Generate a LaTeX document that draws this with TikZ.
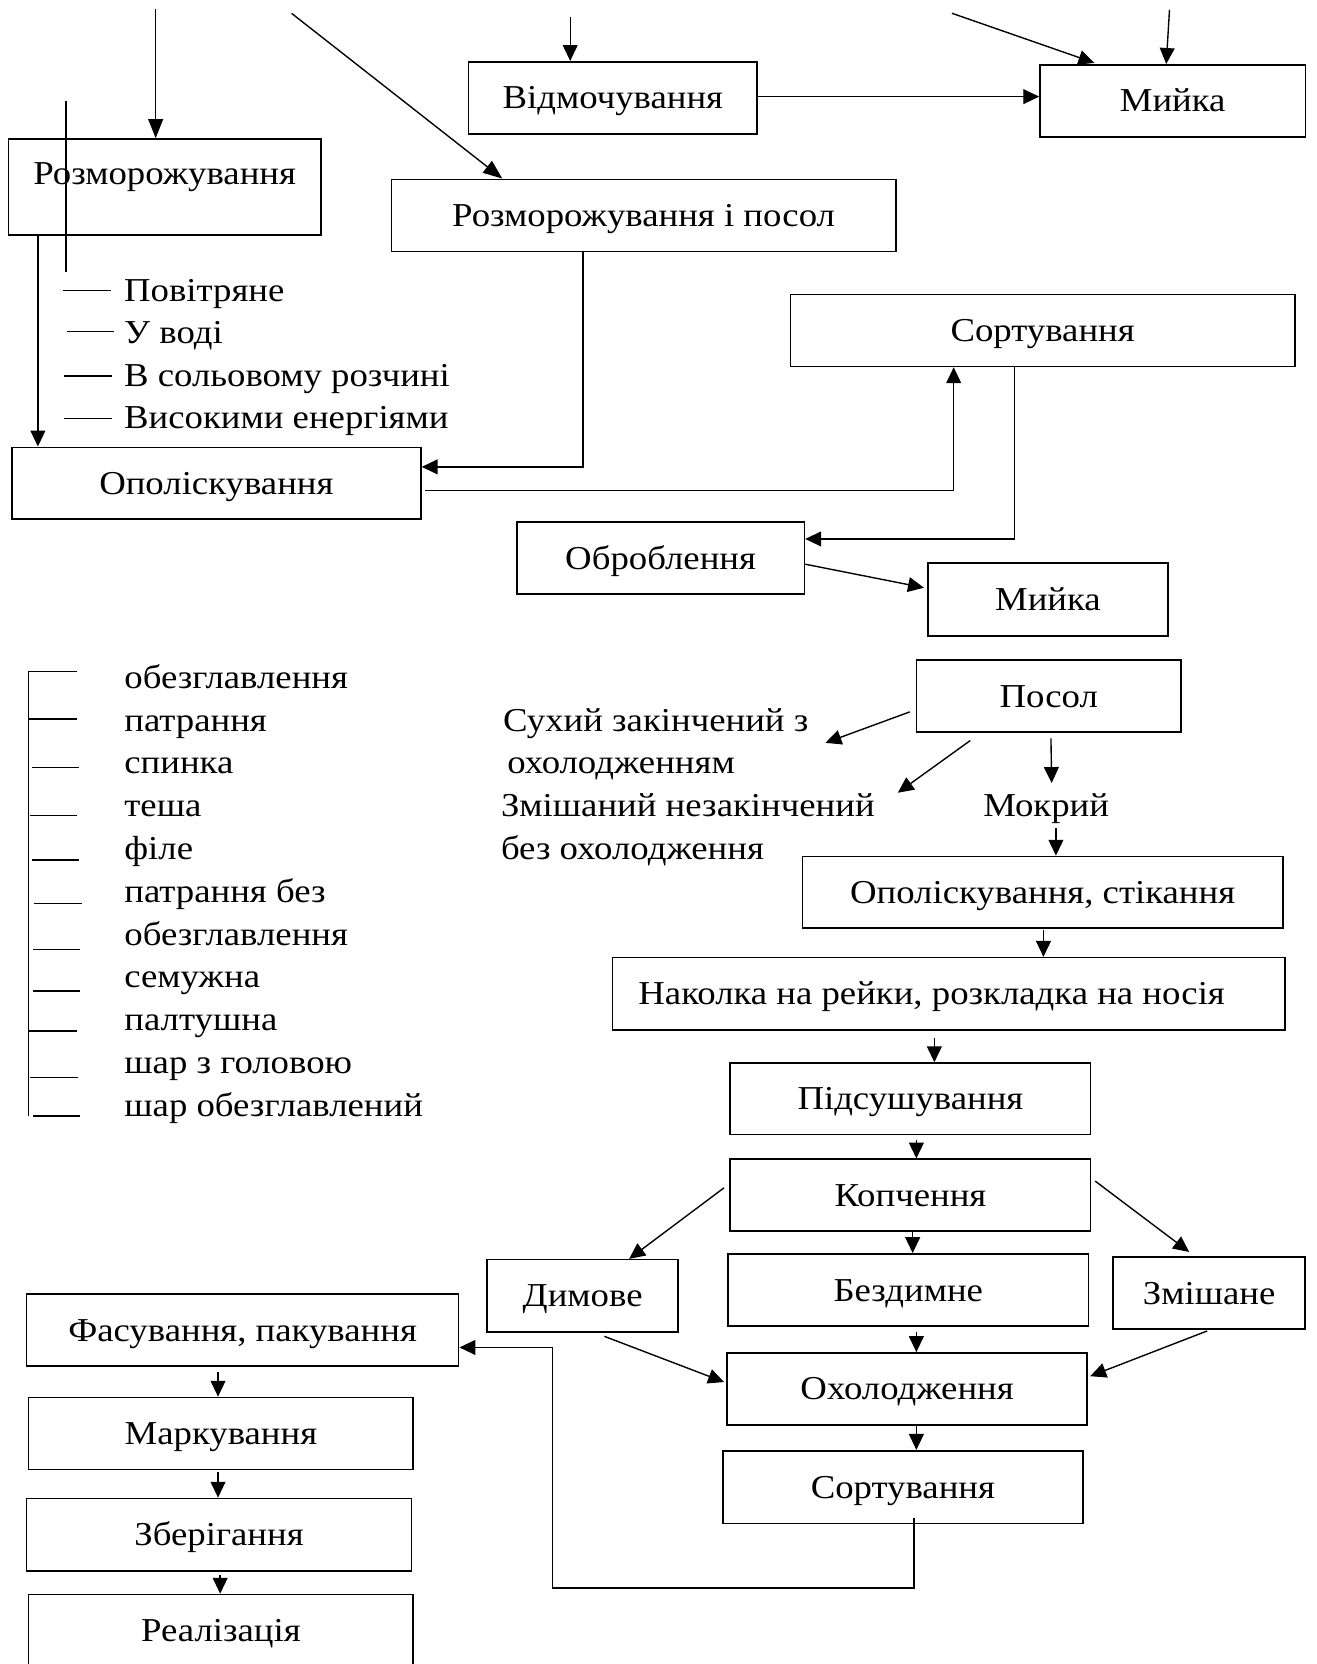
\documentclass[tikz,border=0pt]{standalone}
\usepackage{fontspec}
\setmainfont{Liberation Serif}[FakeStretch=1.1]
\usetikzlibrary{arrows.meta,calc}
\begin{document}
\begin{tikzpicture}[x=1pt,y=-1pt,font=\fontsize{31.5}{36}\selectfont]
\tikzset{
 bx/.style={draw,line width=1.5pt,inner sep=0pt,text height=21pt,text depth=0pt,anchor=center},
 arr/.style={line width=1.3pt,-{Triangle[length=15pt,width=14pt]}},
 arrbig/.style={line width=1.3pt,-{Triangle[length=18pt,width=14pt]}},
 ln/.style={line width=1.3pt},
 lbl/.style={anchor=base west,inner sep=0pt},
}
\fill[white] (0,0) rectangle (1241,1568);
\useasboundingbox (0,0) rectangle (1241,1568);

% ---- boxes ----
\node[bx,minimum width=272pt,minimum height=68pt] (vidm) at (577.5,92.2) {Відмочування};
\node[bx,minimum width=250pt,minimum height=68pt] (myika1) at (1105,95) {Мийка};
\node[bx,minimum width=294.5pt,minimum height=90.5pt,text depth=26pt] (rozm) at (155.2,176.2) {Розморожування};
\node[bx,minimum width=475.3pt,minimum height=68pt] (rozmpos) at (606.5,203) {Розморожування і посол};
\node[bx,minimum width=385.5pt,minimum height=67.8pt] (opol) at (203.9,455.4) {Ополіскування};
\node[bx,minimum width=475pt,minimum height=67.8pt] (sort1) at (982.5,311.4) {Сортування};
\node[bx,minimum width=271pt,minimum height=68.2pt] (obrob) at (622.5,525.9) {Оброблення};
\node[bx,minimum width=226.2pt,minimum height=68.5pt] (myika2) at (987.5,564.8) {Мийка};
\node[bx,minimum width=249.3pt,minimum height=67.5pt] (posol) at (988.2,655.8) {Посол};
\node[bx,minimum width=453pt,minimum height=67.5pt] (opolstik) at (982.5,840.8) {Ополіскування, стікання};
\node[bx,minimum width=633.8pt,minimum height=68.2pt] (nakolka) at (893.9,936.5) {\hspace*{-32pt}Наколка на рейки, розкладка на носія};
\node[bx,minimum width=339.7pt,minimum height=67.3pt] (pidsush) at (857.9,1035.4) {Підсушування};
\node[bx,minimum width=339.7pt,minimum height=67.8pt] (kopch) at (857.9,1126.3) {Копчення};
\node[bx,minimum width=180pt,minimum height=68pt] (dym) at (549,1221) {Димове};
\node[bx,minimum width=339.7pt,minimum height=67.9pt] (bezdym) at (855.9,1215.5) {Бездимне};
\node[bx,minimum width=180.7pt,minimum height=67.8pt] (zmish) at (1139.4,1218.3) {Змішане};
\node[bx,minimum width=339.5pt,minimum height=67.7pt] (okhol) at (854.8,1308.7) {Охолодження};
\node[bx,minimum width=339.5pt,minimum height=68.4pt] (sort2) at (850.8,1401.2) {Сортування};
\node[bx,minimum width=407.2pt,minimum height=67.8pt] (fasuv) at (228.6,1253.4) {Фасування, пакування};
\node[bx,minimum width=362.4pt,minimum height=67.7pt] (mark) at (208.2,1350.7) {Маркування};
\node[bx,minimum width=362.8pt,minimum height=68.4pt] (zber) at (206.4,1446.2) {Зберігання};
\node[bx,minimum width=362.4pt,minimum height=68pt] (real) at (208.2,1536.5) {Реалізація};

% ---- legend 1 ----
\draw[ln] (62.3,95) coordinate (v1a) -- (62.3,256) coordinate (v1b);
\node[lbl] (l1) at (116.8,284.2) {Повітряне};
\node[lbl] (l2) at (116.8,324.1) {У воді};
\node[lbl] (l3) at (116.8,364.3) {В сольовому розчині};
\node[lbl] (l4) at (116.8,403.6) {Високими енергіями};
\draw[ln] (59.7,273.9) -- (104.3,273.9);
\draw[ln] (62.8,312.5) -- (107.4,312.5);
\draw[ln] (60.6,354.3) -- (105.8,354.3);
\draw[ln] (60.6,394.5) -- (105.2,394.5);

% ---- legend 2 ----
\draw[ln] (27,632.7) -- (27,1051.6);
\foreach \a/\b/\y in {27/72.6/632.7,27/72.6/677.5,29.7/74.2/723,27.8/72.6/768.3,29.7/74.2/810.3,32.5/77.3/851.6,30.9/75.3/895,30.9/75.3/933.8,27/72.6/971.5,27.8/73.4/1015.4,30.9/75.3/1051.6}
  \draw[ln] (\a,\y) -- (\b,\y);
\node[lbl] (m0) at (117,648.6) {обезглавлення};
\node[lbl] (m1) at (117,688.9) {патрання};
\node[lbl] (m2) at (117,729.3) {спинка};
\node[lbl] (m3) at (117,769.6) {теша};
\node[lbl] (m4) at (117,809.9) {філе};
\node[lbl] (m5) at (117,850.3) {патрання без};
\node[lbl] (m6) at (117,890.6) {обезглавлення};
\node[lbl] (m7) at (117,930.9) {семужна};
\node[lbl] (m8) at (117,971.2) {палтушна};
\node[lbl] (m9) at (117,1011.6) {шар з головою};
\node[lbl] (m10) at (117,1051.9) {шар обезглавлений};

% ---- salting texts ----
\node[lbl] (t1) at (474,689) {Сухий закінчений з};
\node[lbl] (t2) at (477.8,728.6) {охолодженням};
\node[lbl] (t3) at (471.9,769.5) {Змішаний незакінчений};
\node[lbl] (t4) at (471.9,810.3) {без охолодження};
\node[anchor=base,inner sep=0pt] (mokr) at (985.8,769.5) {Мокрий};

% ---- free ends ----
\coordinate (a1) at (146.7,8.8);
\coordinate (a2) at (274.8,12.6);
\coordinate (a3) at (537.3,15.7);
\coordinate (a4) at (897,12.5);
\coordinate (a5) at (1102,9.4);
\coordinate (e12) at (777.8,700);
\coordinate (e13) at (846,747);
\coordinate (e14) at (991,737.8);
\coordinate (s15) at (995,780.6);

% ---- connectors ----
\draw[arrbig] (a1) -- (a1 |- rozm.north);
\draw[arrbig] (a2) -- ($(rozmpos.north west)+(105.2,0)$);
\draw[arr] (a3) -- (a3 |- vidm.north);
\draw[arr] (a4) -- ($(myika1.north west)+(52,-1)$);
\draw[arr] (a5) -- ($(myika1.north west)+(119.7,0)$);
\draw[arr] ($(vidm.north east)+(0,33.6)$) coordinate (c6) -- (c6 -| myika1.west);
\draw[arr] ($(rozm.south west)+(28.5,0)$) coordinate (c7) -- (c7 |- opol.north);
\draw[arr] ($(rozmpos.south west)+(181.2,0)$) |- ($(opol.north east)+(0,19.2)$);
\draw[arr] ($(opol.north east)+(3,41.2)$) -| ($(sort1.south west)+(154.4,0)$);
\draw[arr] ($(sort1.south west)+(211.5,0)$) |- ($(obrob.north east)+(0,16.8)$);
\draw[arr] ($(obrob.north east)+(0,40.6)$) -- ($(myika2.north west)+(-3,24)$);
\draw[arr] ($(posol.north west)+(-5.5,49.5)$) -- (e12);
\draw[arr] ($(posol.south west)+(51.5,7.5)$) -- (e13);
\draw[arr] ($(posol.south west)+(127.5,5.5)$) -- (e14);
\draw[arr] (s15) -- (s15 |- opolstik.north);
\draw[arr] ($(opolstik.south west)+(228,1.5)$) coordinate (c16) -- (c16 |- nakolka.north);
\draw[arr] ($(nakolka.south west)+(304.2,7)$) coordinate (c17) -- (c17 |- pidsush.north);
\draw[arr] ($(pidsush.south west)+(176.2,4)$) coordinate (c18) -- (c18 |- kopch.north);
\draw[arr] ($(kopch.south west)+(172.7,0)$) coordinate (c19) -- (c19 |- bezdym.north);
\draw[arr] ($(kopch.north west)+(-5,27.6)$) -- ($(dym.north west)+(134.6,0)$);
\draw[arr] ($(kopch.north east)+(3.5,21.3)$) -- ($(zmish.north west)+(72.3,-3.9)$);
\draw[arr] ($(bezdym.south west)+(178.2,5)$) coordinate (c22) -- (c22 |- okhol.north);
\draw[arr] ($(dym.south west)+(111.3,3.5)$) -- ($(okhol.north west)+(-2,28.2)$);
\draw[arr] ($(zmish.south west)+(89.2,1.2)$) -- ($(okhol.north east)+(2,22.7)$);
\draw[arr] ($(okhol.south west)+(179.2,0)$) coordinate (c25) -- (c25 |- sort2.north);
\coordinate (k1) at (520.7,1496.3);
\coordinate (k2) at (520.7,1269.7);
\draw[arr] ($(sort2.south west)+(181,-6)$) |- (k1) -- (k2) -- (k2 -| fasuv.east);
\draw[arr] ($(fasuv.south west)+(181.2,5)$) coordinate (c27) -- (c27 |- mark.north);
\draw[arr] ($(mark.south west)+(179.2,2)$) coordinate (c28) -- (c28 |- zber.north);
\draw[arr] ($(zber.south west)+(183.2,3.4)$) coordinate (c29) -- (c29 |- real.north);
\end{tikzpicture}
\end{document}
